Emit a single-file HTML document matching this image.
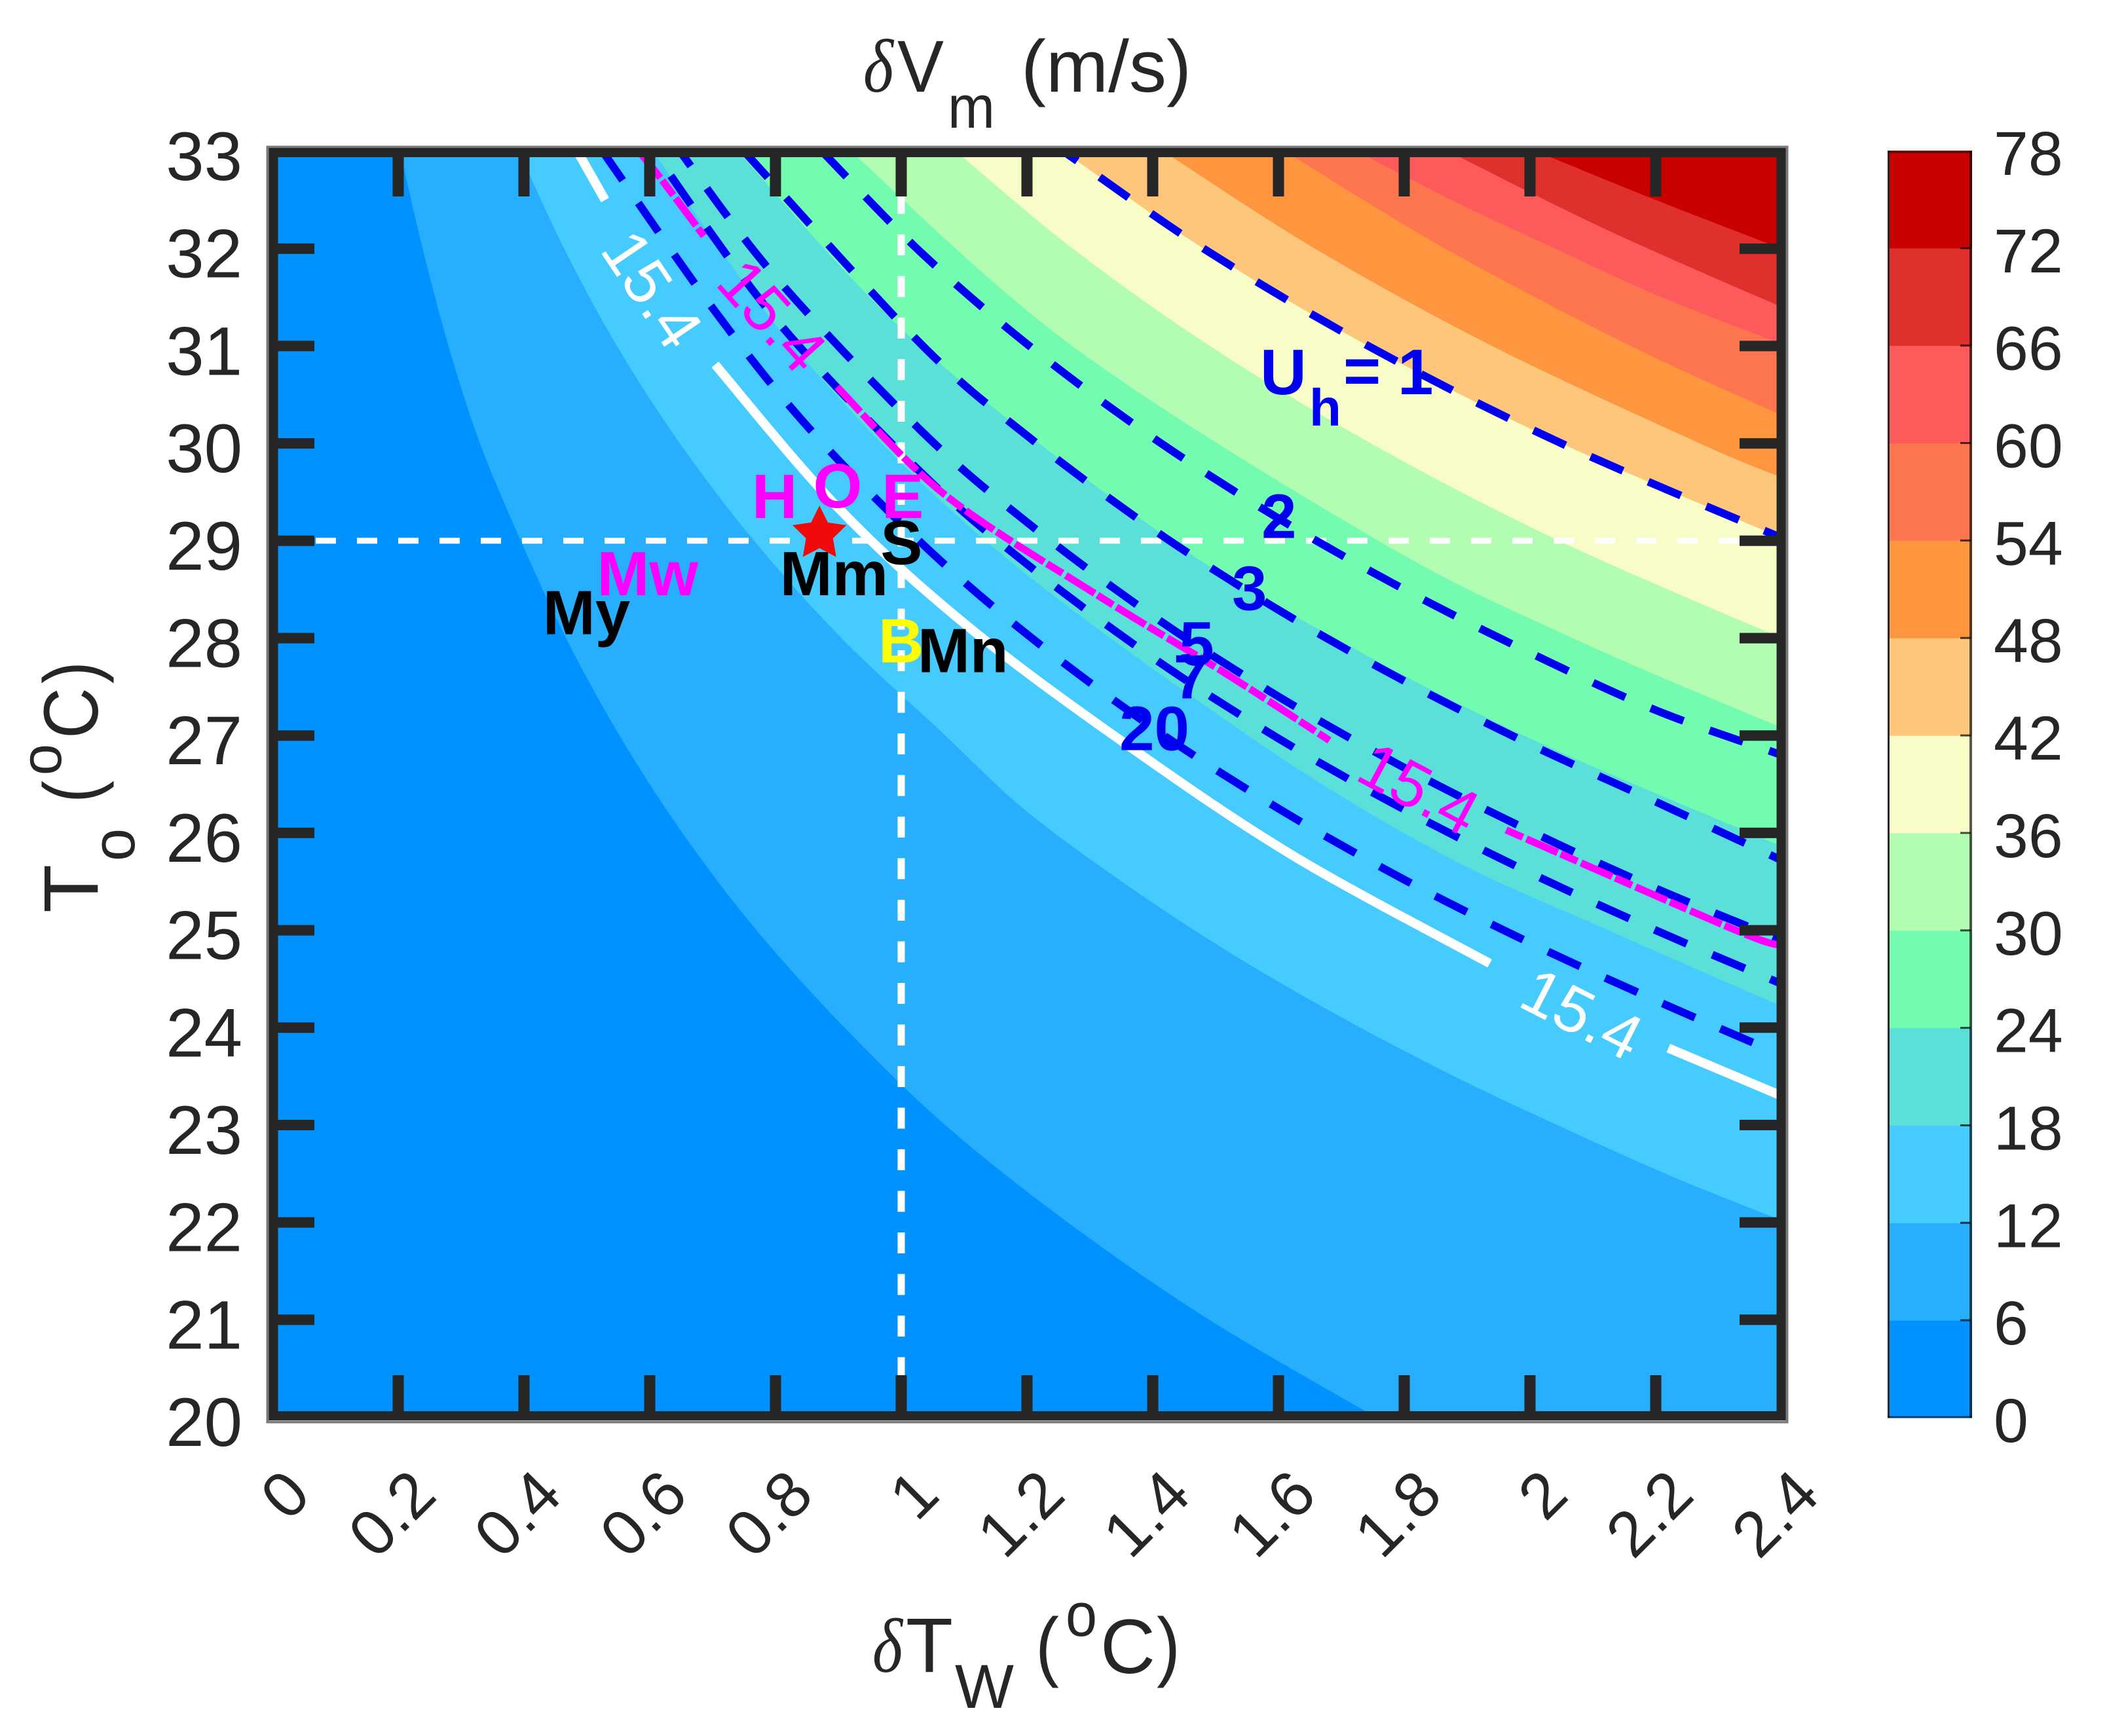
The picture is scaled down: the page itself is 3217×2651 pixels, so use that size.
<!DOCTYPE html>
<html lang="en">
<head>
<meta charset="utf-8">
<title>δVm contour chart</title>
<style>
html,body{margin:0;padding:0;background:#fff;}
svg{display:block;}
text{font-family:"Liberation Sans",sans-serif;}
.serif{font-family:"Liberation Serif",serif;font-style:italic;}
.ink{fill:#262626;}
</style>
</head>
<body>
<svg id="chart" xmlns="http://www.w3.org/2000/svg" width="3217" height="2651" viewBox="0 0 3217 2651">
  <defs>
    <clipPath id="plot-clip"><rect x="416" y="231" width="2304" height="1933"/></clipPath>
  </defs>
  <rect width="3217" height="2651" fill="#fff"/>
  <g id="bands" clip-path="url(#plot-clip)"></g>
  <g id="lines" clip-path="url(#plot-clip)"></g>
  <g id="notes"></g>
  <g id="axes"></g>
  <g id="bar"></g>

  <g class="ink" fill="#262626">
    <text class="serif" x="1318" y="140" font-size="116" textLength="46" lengthAdjust="spacingAndGlyphs">δ</text>
    <text x="1370" y="140" font-size="112" textLength="71" lengthAdjust="spacingAndGlyphs">V</text>
    <text x="1447" y="195" font-size="92" textLength="72" lengthAdjust="spacingAndGlyphs">m</text>
    <text x="1559" y="140" font-size="112" textLength="260" lengthAdjust="spacingAndGlyphs">(m/s)</text>
  </g>
  <g fill="#262626">
    <text class="serif" x="1332" y="2553" font-size="118" textLength="46" lengthAdjust="spacingAndGlyphs">δ</text>
    <text x="1383" y="2553" font-size="118" textLength="72" lengthAdjust="spacingAndGlyphs">T</text>
    <text x="1458" y="2608" font-size="95" textLength="90" lengthAdjust="spacingAndGlyphs">W</text>
    <text x="1581" y="2553" font-size="118" textLength="36" lengthAdjust="spacingAndGlyphs">(</text>
    <text x="1627" y="2498" font-size="94" textLength="48" lengthAdjust="spacingAndGlyphs">o</text>
    <text x="1680" y="2555" font-size="118" textLength="84" lengthAdjust="spacingAndGlyphs">C</text>
    <text x="1766" y="2553" font-size="118" textLength="36" lengthAdjust="spacingAndGlyphs">)</text>
  </g>
  <g fill="#262626">
    <text transform="translate(149 1394) rotate(-90)" font-size="118" textLength="74" lengthAdjust="spacingAndGlyphs">T</text>
    <text transform="translate(205 1315) rotate(-90)" font-size="92" textLength="50" lengthAdjust="spacingAndGlyphs">o</text>
    <text transform="translate(149 1226) rotate(-90)" font-size="118" textLength="34" lengthAdjust="spacingAndGlyphs">(</text>
    <text transform="translate(93 1184) rotate(-90)" font-size="88" textLength="48" lengthAdjust="spacingAndGlyphs">o</text>
    <text transform="translate(149 1128) rotate(-90)" font-size="118" textLength="78" lengthAdjust="spacingAndGlyphs">C</text>
    <text transform="translate(149 1044) rotate(-90)" font-size="118" textLength="34" lengthAdjust="spacingAndGlyphs">)</text>
  </g>
</svg>

<script>
// ---- Tick values ----
const xTicks = [0, 0.2, 0.4, 0.6, 0.8, 1, 1.2, 1.4, 1.6, 1.8, 2, 2.2, 2.4];
const xTickLabels = ["0", "0.2", "0.4", "0.6", "0.8", "1", "1.2", "1.4", "1.6", "1.8", "2", "2.2", "2.4"];
const yTicks = [20, 21, 22, 23, 24, 25, 26, 27, 28, 29, 30, 31, 32, 33];
const colorbarTicks = [0, 6, 12, 18, 24, 30, 36, 42, 48, 54, 60, 66, 72, 78];
const bandColors = ["#0093FF", "#27AFFE", "#45CBFE", "#5AE0D8", "#73FCB0", "#B2FDB2", "#F8FDC8", "#FDC67A", "#FE9640", "#FE7650", "#FD5A5C", "#E0302E", "#C90000"];

// ---- Filled contour boundaries (deltaT, T) ----
const contour6X = [0.203, 0.239, 0.28, 0.33, 0.395, 0.467, 0.552, 0.652, 0.77, 0.91, 1.07, 1.265, 1.49, 1.755];
const contour6T = [33, 32, 31, 30, 29, 28, 27, 26, 25, 24, 23, 22, 21, 20];
const contour12X = [0.392, 0.464, 0.548, 0.648, 0.766, 0.905, 1.062, 1.198, 1.371, 1.543, 1.716, 1.889, 2.06, 2.23, 2.4];
const contour12T = [33, 32, 31, 30, 29, 28, 27.05, 26.23, 25.41, 24.69, 24.05, 23.47, 22.95, 22.46, 22.02];
const contour18X = [0.605, 0.828, 1.134, 1.552, 1.858, 2.125, 2.4];
const contour18T = [33, 31, 29, 27, 25.79, 25, 24.22];
const contour24X = [0.74, 1.03, 1.43, 1.69, 1.99, 2.35, 2.4];
const contour24T = [33, 31, 29, 28, 27, 26, 25.87];
const contour30X = [0.92, 1.272, 1.759, 2.068, 2.4];
const contour30T = [33, 31, 29, 28, 27.08];
const contour36X = [1.087, 1.273, 1.491, 1.747, 2.046, 2.4];
const contour36T = [33, 32, 31, 30, 29, 28];
const contour42X = [1.258, 1.481, 1.743, 2.05, 2.4];
const contour42T = [33, 32, 31, 30, 29.03];
const contour48X = [1.417, 1.658, 1.94, 2.27, 2.4];
const contour48T = [33, 32, 31, 30, 29.65];
const contour54X = [1.61, 1.865, 2.16, 2.4];
const contour54T = [33, 32, 31, 30.29];
const contour60X = [1.725, 1.875, 2.04, 2.21, 2.4];
const contour60T = [33, 32.5, 32, 31.5, 31.02];
const contour66X = [1.87, 2.12, 2.4];
const contour66T = [33, 32.2, 31.4];
const contour72X = [2.01, 2.2, 2.4];
const contour72T = [33, 32.5, 32];

// ---- Dashed U_h lines ----
const uh1X = [1.258, 1.481, 1.743, 2.05, 2.4];
const uh1T = [33, 32, 31, 30, 29.03];
const uh2X = [0.874, 1.03, 1.2, 1.4, 1.6, 1.8, 2, 2.2, 2.4];
const uh2T = [33, 31.97, 31.02, 30.06, 29.23, 28.5, 27.85, 27.26, 26.8];
const uh3X = [0.75, 1.03, 1.2, 1.4, 1.6, 1.8, 2, 2.2, 2.4];
const uh3T = [33, 31.03, 30.08, 29.12, 28.29, 27.56, 26.91, 26.32, 25.72];
const uh5X = [0.648, 0.8, 1.03, 1.2, 1.4, 1.6, 1.8, 2, 2.2, 2.4];
const uh5T = [33, 31.71, 30.14, 29.19, 28.23, 27.4, 26.67, 26.02, 25.43, 24.9];
const uh7X = [0.606, 0.8, 1.03, 1.2, 1.4, 1.6, 1.8, 2, 2.2, 2.4];
const uh7T = [33, 31.28, 29.71, 28.76, 27.8, 26.97, 26.24, 25.59, 25, 24.45];
const uh20X = [0.525, 0.7, 0.85, 1.03, 1.2, 1.4, 1.6, 1.8, 2, 2.2, 2.4];
const uh20T = [33, 31.39, 30.18, 28.99, 28.04, 27.08, 26.25, 25.52, 24.87, 24.28, 23.72];

// ---- White 15.4 contour pieces ----
const white1X = [0.485, 0.529];
const white1T = [33, 32.5];
const white2X = [0.704, 0.898, 1.108, 1.371, 1.63, 1.936];
const white2T = [30.81, 29.35, 28.11, 26.85, 25.74, 24.66];
const white3X = [2.22, 2.4];
const white3T = [23.79, 23.3];

// ---- Magenta 15.4 contour pieces ----
const magenta1X = [0.583, 0.62, 0.686];
const magenta1T = [33, 32.7, 32.13];
const magenta2X = [0.898, 1.068, 1.31, 1.508, 1.681];
const magenta2T = [30.58, 29.48, 28.45, 27.67, 26.95];
const magenta3X = [1.962, 2.32, 2.4];
const magenta3T = [26.03, 25.02, 24.84];

// ---- Reference lines and marker ----
const refT = 29;
const refDeltaT = 1;
const starX = 0.87;
const starT = 29.07;

// ---- Point labels ----
const siteNames = ["H", "O", "E", "S", "Mm", "Mw", "My", "B", "Mn"];
const siteX = [0.7625, 0.86, 0.969, 0.967, 0.807, 0.516, 0.43, 0.9635, 1.026];
const siteT = [29.234, 29.34, 29.234, 28.76, 28.44, 28.44, 28.04, 27.75, 27.65];
const siteColors = ["#FF00FF", "#FF00FF", "#FF00FF", "#000", "#000", "#FF00FF", "#000", "#FFFF00", "#000"];

// ---- U_h line labels ----
const uhLabels = ["2", "3", "5", "7", "20"];
const uhLabelX = [1.573, 1.526, 1.442, 1.433, 1.347];
const uhLabelT = [29.03, 28.29, 27.72, 27.38, 26.85];

const NS = "http://www.w3.org/2000/svg";
const xPos = v => 416 + 960 * v;
const yPos = t => 231 + 148.7 * (33 - t);
const cbarY = v => 2165 - v * (1935 / 78);
const $ = id => document.getElementById(id);

function mk(tag, parent, attrs, txt) {
  const n = document.createElementNS(NS, tag);
  for (const k in attrs) n.setAttribute(k, attrs[k]);
  if (txt !== undefined) n.textContent = txt;
  parent.appendChild(n);
  return n;
}
function toPts(xs, ts) { return xs.map((x, i) => [xPos(x), yPos(ts[i])]); }
function smooth(p) {
  let d = "M" + p[0][0].toFixed(1) + " " + p[0][1].toFixed(1);
  for (let i = 0; i < p.length - 1; i++) {
    const a = p[i - 1] || p[i], b = p[i], c = p[i + 1], e = p[i + 2] || c;
    d += "C" + (b[0] + (c[0] - a[0]) / 6).toFixed(1) + " " + (b[1] + (c[1] - a[1]) / 6).toFixed(1) + " "
      + (c[0] - (e[0] - b[0]) / 6).toFixed(1) + " " + (c[1] - (e[1] - b[1]) / 6).toFixed(1) + " "
      + c[0].toFixed(1) + " " + c[1].toFixed(1);
  }
  return d;
}

// Filled bands, lowest first
const bandBase = mk("rect", $("bands"), { x: xPos(0), y: yPos(33), width: xPos(2.4) - xPos(0), height: yPos(20) - yPos(33), fill: bandColors[0] });


const contourSets = [
  [contour6X, contour6T], [contour12X, contour12T], [contour18X, contour18T], [contour24X, contour24T],
  [contour30X, contour30T], [contour36X, contour36T], [contour42X, contour42T], [contour48X, contour48T],
  [contour54X, contour54T], [contour60X, contour60T], [contour66X, contour66T], [contour72X, contour72T]
];
contourSets.forEach((c, i) => {
  const pts = toPts(c[0], c[1]);
  const last = pts[pts.length - 1];
  const d = smooth(pts) + "L" + (xPos(2.4) + 20) + " " + last[1].toFixed(1) + "L" + (xPos(2.4) + 20) + " " + (yPos(33) - 20) + "L" + pts[0][0].toFixed(1) + " " + (yPos(33) - 20) + "Z";
  const band = mk("path", $("bands"), { d: d, fill: bandColors[i + 1] });
  
  
});

// White reference lines
const refH = mk("line", $("lines"), { x1: xPos(0) + 3, x2: xPos(2.4), y1: yPos(refT), y2: yPos(refT), stroke: "#fff", "stroke-width": 9, "stroke-dasharray": "31 32" });


const refV = mk("line", $("lines"), { x1: xPos(refDeltaT), x2: xPos(refDeltaT), y1: yPos(33), y2: yPos(20), stroke: "#fff", "stroke-width": 11, "stroke-dasharray": "32 31.5" });



// White 15.4 contour
[[white1X, white1T], [white2X, white2T], [white3X, white3T]].forEach(s => {
  const w = mk("path", $("lines"), { d: smooth(toPts(s[0], s[1])), fill: "none", stroke: "#fff", "stroke-width": 14 });
  
  
});

// Dashed U_h lines (last entry is the dash phase at the top edge)
[[uh1X, uh1T, "1", 28], [uh2X, uh2T, "2", 0], [uh3X, uh3T, "3", 0], [uh5X, uh5T, "5", 26], [uh7X, uh7T, "7", 50], [uh20X, uh20T, "20", 0]].forEach(s => {
  const u = mk("path", $("lines"), { d: smooth(toPts(s[0], s[1])), fill: "none", stroke: "#0000F0", "stroke-width": 12, "stroke-dasharray": "54 42", "stroke-dashoffset": s[3] });
  
  
});

// Magenta 15.4 contour
[[magenta1X, magenta1T, "52 5 28 6"], [magenta2X, magenta2T, "52 5 28 6"], [magenta3X, magenta3T, "28 6 52 5"]].forEach(s => {
  const m = mk("path", $("lines"), { d: smooth(toPts(s[0], s[1])), fill: "none", stroke: "#FF00FF", "stroke-width": 11, "stroke-dasharray": s[2] });
  
  
});

// Curve labels
[["15.4", 997, 441, 56, "#fff", "white-contour-label"], ["15.4", 2416, 1547, 27, "#fff", "white-contour-label"],
 ["15.4", 1180, 481, 48, "#FF00FF", "magenta-contour-label"], ["15.4", 2167, 1203, 28, "#FF00FF", "magenta-contour-label"]].forEach(l => {
  const t = mk("text", $("notes"), { transform: "translate(" + l[1] + " " + l[2] + ") rotate(" + l[3] + ")", "text-anchor": "middle", dy: "0.36em", "font-size": 98, fill: l[4] }, l[0]);
  
  
});

// U_h header label
const uhHead = mk("text", $("notes"), { x: 1924, y: 602, "font-size": 98, "font-weight": "bold", fill: "#0000F0" }, "U");


const uhSub = mk("text", $("notes"), { x: 1999, y: 650, "font-size": 80, "font-weight": "bold", fill: "#0000F0" }, "h");


const uhEq = mk("text", $("notes"), { x: 2051, y: 600, "font-size": 98, "font-weight": "bold", fill: "#0000F0" }, "=");


const uhOne = mk("text", $("notes"), { x: 2134, y: 602, "font-size": 98, "font-weight": "bold", fill: "#0000F0" }, "1");



uhLabels.forEach((s, i) => {
  const t = mk("text", $("notes"), { x: xPos(uhLabelX[i]), y: yPos(uhLabelT[i]), "font-size": 96, "font-weight": "bold", fill: "#0000F0" }, s);
  
  
});

// Site labels
siteNames.forEach((s, i) => {
  const t = mk("text", $("notes"), { x: xPos(siteX[i]), y: yPos(siteT[i]), "font-size": 96, "font-weight": "bold", fill: siteColors[i] }, s);
  
  
});

// Star marker
let starPts = [];
for (let i = 0; i < 10; i++) {
  const r = i % 2 ? 20 : 40, a = -Math.PI / 2 + i * Math.PI / 5;
  starPts.push((xPos(starX) + r * Math.cos(a)).toFixed(1) + "," + (yPos(starT) + r * Math.sin(a)).toFixed(1));
}
const star = mk("polygon", $("notes"), { points: starPts.join(" "), fill: "#F00A0A", stroke: "#F00A0A", "stroke-width": 3 });



// Frame
const frameOuter = mk("rect", $("axes"), { x: 408.5, y: 224.5, width: 2320, height: 1947, fill: "none", stroke: "#7a7a7a", "stroke-width": 4 });


const frameInner = mk("rect", $("axes"), { x: 417.5, y: 233, width: 2302, height: 1929, fill: "none", stroke: "#262626", "stroke-width": 14 });



// X ticks
xTicks.forEach((v, i) => {
  const px = xPos(v);
  if (v > 0 && v < 2.4) {
    const b = mk("line", $("axes"), { x1: px, x2: px, y1: 2164, y2: 2100, stroke: "#262626", "stroke-width": 17 });
    
    
    const t = mk("line", $("axes"), { x1: px, x2: px, y1: 231, y2: 300, stroke: "#262626", "stroke-width": 17 });
    
    
  }
  const lab = mk("text", $("axes"), { transform: "translate(" + (px + 62) + " 2287) rotate(-45)", "text-anchor": "end", "font-size": 98, fill: "#262626" }, xTickLabels[i]);
  
  
});

// Y ticks
yTicks.forEach(v => {
  const py = yPos(v);
  if (v > 20 && v < 33) {
    const l = mk("line", $("axes"), { x1: 416, x2: 480, y1: py, y2: py, stroke: "#262626", "stroke-width": 16 });
    
    
    const r = mk("line", $("axes"), { x1: 2720, x2: 2656, y1: py, y2: py, stroke: "#262626", "stroke-width": 16 });
    
    
  }
  const lab = mk("text", $("axes"), { x: 370, y: py + 44, "text-anchor": "end", "font-size": 105, fill: "#262626" }, String(v));
  
  
});

// Colorbar
bandColors.forEach((c, i) => {
  const top = cbarY(colorbarTicks[i + 1]), bot = cbarY(colorbarTicks[i]);
  const seg = mk("rect", $("bar"), { x: 2882, y: top, width: 129, height: bot - top + 0.5, fill: c });
  
  
});
const cbLeft = mk("line", $("bar"), { x1: 2883.5, x2: 2883.5, y1: 230, y2: 2165, stroke: "#262626", "stroke-width": 3 });


const cbRight = mk("line", $("bar"), { x1: 3009, x2: 3009, y1: 230, y2: 2165, stroke: "#000", "stroke-opacity": 0.65, "stroke-width": 4 });


const cbTop = mk("line", $("bar"), { x1: 2882, x2: 3011, y1: 232, y2: 232, stroke: "#000", "stroke-opacity": 0.45, "stroke-width": 4 });


const cbBottom = mk("line", $("bar"), { x1: 2882, x2: 3011, y1: 2164, y2: 2164, stroke: "#000", "stroke-opacity": 0.6, "stroke-width": 3 });


colorbarTicks.forEach(v => {
  const py = cbarY(v);
  if (v > 0 && v < 78) {
    const tk = mk("line", $("bar"), { x1: 2993, x2: 3009, y1: py, y2: py, stroke: "#000", "stroke-opacity": 0.7, "stroke-width": 3 });
    
    
  }
  const lab = mk("text", $("bar"), { x: 3044, y: py + 37, "font-size": 95, fill: "#262626" }, String(v));
  
  
});
</script>
</body>
</html>
